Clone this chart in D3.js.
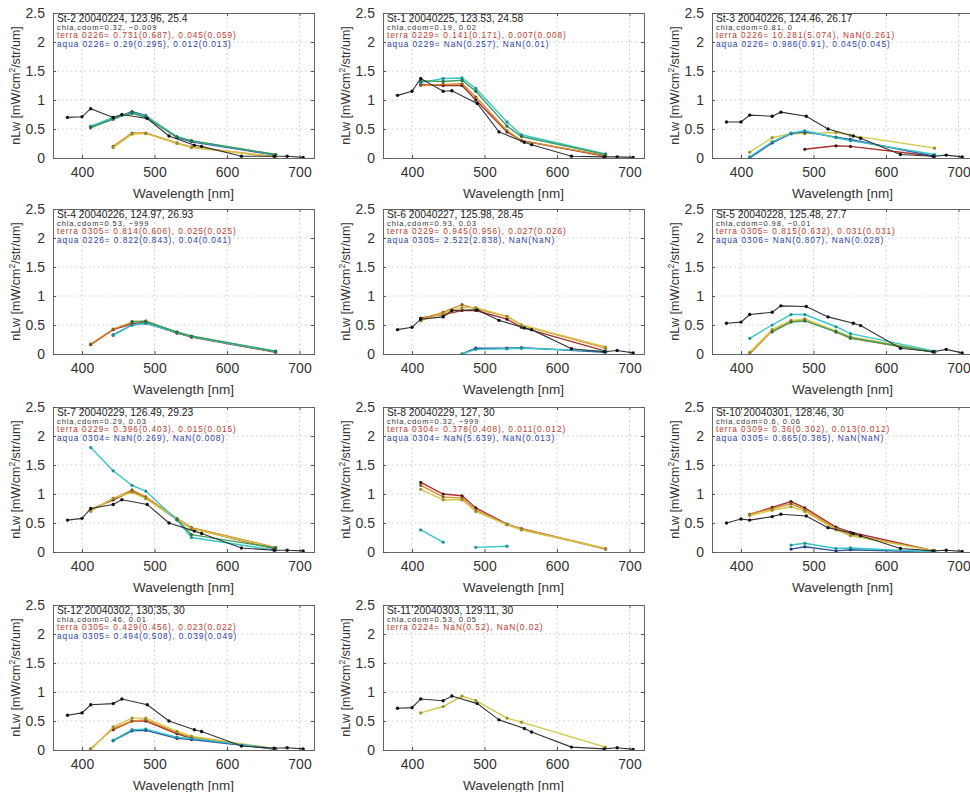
<!DOCTYPE html>
<html>
<head>
<meta charset="utf-8">
<script src="https://cdn.jsdelivr.net/npm/d3@7"></script>
<style>
  html, body { margin: 0; padding: 0; background: #fff; }
  svg { display: block; font-family: "Liberation Sans", Arial, Helvetica, sans-serif; }
</style>
</head>
<body>
<svg id="chart" width="970" height="792"></svg>
<script>
// ── Data ──────────────────────────────────────────────────────────────────────
const wlInsitu = [380, 400, 412, 443, 455, 490, 520, 555, 565, 620, 665, 683, 705]
const wlModis  = [412, 443, 469, 488, 531, 551, 667]

const titles = [
  'St-2 20040224, 123.96, 25.4', 'St-1 20040225, 123.53, 24.58', 'St-3 20040226, 124.46, 26.17',
  'St-4 20040226, 124.97, 26.93', 'St-6 20040227, 125.98, 28.45', 'St-5 20040228, 125.48, 27.7',
  'St-7 20040229, 126.49, 29.23', 'St-8 20040229, 127, 30', 'St-10 20040301, 128.46, 30',
  'St-12 20040302, 130.35, 30', 'St-11 20040303, 129.11, 30'
]
const chlaText = [
  'chla,cdom=0.32, \u22120.009', 'chla,cdom=0.19, 0.02', 'chla,cdom=0.81, 0',
  'chla,cdom=0.53, \u2212999', 'chla,cdom=0.93, 0.03', 'chla,cdom=0.98, \u22120.01',
  'chla,cdom=0.29, 0.03', 'chla,cdom=0.32, \u2212999', 'chla,cdom=0.6, 0.06',
  'chla,cdom=0.46, 0.01', 'chla,cdom=0.53, 0.05'
]
const terraText = [
  'terra 0226= 0.731(0.687), 0.045(0.059)', 'terra 0229= 0.141(0.171), 0.007(0.008)',
  'terra 0226= 10.281(5.074), NaN(0.261)', 'terra 0305= 0.814(0.606), 0.025(0.025)',
  'terra 0229= 0.945(0.956), 0.027(0.026)', 'terra 0305= 0.815(0.632), 0.031(0.031)',
  'terra 0229= 0.396(0.403), 0.015(0.015)', 'terra 0304= 0.378(0.408), 0.011(0.012)',
  'terra 0309= 0.36(0.302), 0.013(0.012)', 'terra 0305= 0.429(0.456), 0.023(0.022)',
  'terra 0224= NaN(0.52), NaN(0.02)'
]
const aquaText = [
  'aqua 0226= 0.29(0.295), 0.012(0.013)', 'aqua 0229= NaN(0.257), NaN(0.01)',
  'aqua 0226= 0.986(0.91), 0.045(0.045)', 'aqua 0226= 0.822(0.843), 0.04(0.041)',
  'aqua 0305= 2.522(2.838), NaN(NaN)', 'aqua 0306= NaN(0.807), NaN(0.028)',
  'aqua 0304= NaN(0.269), NaN(0.008)', 'aqua 0304= NaN(5.639), NaN(0.013)',
  'aqua 0305= 0.665(0.385), NaN(NaN)', 'aqua 0305= 0.494(0.508), 0.039(0.049)',
  null
]

// in-situ nLw at wlInsitu (null = station without in-situ spectrum)
const insitu = [
  [0.70, 0.71, 0.85, 0.70, 0.75, 0.68, 0.38, 0.22, 0.20, 0.03, 0.03, 0.03, 0.01],
  [1.08, 1.15, 1.37, 1.15, 1.16, 0.94, 0.45, 0.27, 0.23, 0.03, 0.02, 0.02, 0.01],
  [0.62, 0.62, 0.74, 0.72, 0.79, 0.72, 0.50, 0.38, 0.34, 0.06, 0.03, 0.05, 0.02],
  null,
  [0.42, 0.46, 0.60, 0.64, 0.75, 0.76, 0.58, 0.45, 0.42, 0.09, 0.04, 0.06, 0.02],
  [0.53, 0.55, 0.68, 0.72, 0.83, 0.82, 0.64, 0.53, 0.49, 0.10, 0.04, 0.08, 0.02],
  [0.55, 0.58, 0.75, 0.82, 0.90, 0.82, 0.50, 0.36, 0.32, 0.07, 0.03, 0.03, 0.02],
  null,
  [0.50, 0.57, 0.55, 0.61, 0.65, 0.62, 0.42, 0.32, 0.28, 0.06, 0.02, 0.03, 0.01],
  [0.60, 0.64, 0.78, 0.80, 0.88, 0.78, 0.50, 0.35, 0.32, 0.07, 0.03, 0.04, 0.02],
  [0.72, 0.73, 0.88, 0.85, 0.93, 0.80, 0.52, 0.37, 0.31, 0.05, 0.02, 0.04, 0.01]
]

// satellite nLw at wlModis, one array per plotted series
const satRed = [
  null,
  [1.27, 1.25, 1.25, 1.00, 0.45, 0.30, 0.03],
  [null, null, null, 0.15, 0.21, 0.20, 0.03],
  [0.16, 0.42, 0.52, 0.55, 0.36, 0.29, 0.03],
  [0.62, 0.68, 0.75, 0.75, 0.60, 0.46, 0.05],
  null,
  [0.73, 0.90, 1.05, 0.93, 0.56, 0.41, 0.05],
  [1.20, 1.00, 0.97, 0.76, 0.48, 0.40, 0.05],
  [0.65, 0.77, 0.87, 0.76, 0.43, 0.34, 0.02],
  [null, 0.35, 0.50, 0.50, 0.28, 0.20, 0.01],
  null
]
const satOrange = [
  [null, 0.20, 0.43, 0.43, 0.26, 0.19, 0.02],
  [1.25, 1.27, 1.28, 1.05, 0.47, 0.30, 0.04],
  null,
  [0.17, 0.43, 0.55, 0.57, 0.37, 0.30, 0.04],
  [0.60, 0.72, 0.85, 0.78, 0.65, 0.50, 0.10],
  [0.00, 0.40, 0.56, 0.60, 0.38, 0.27, 0.03],
  [0.72, 0.92, 1.07, 0.95, 0.58, 0.42, 0.08],
  [1.15, 0.95, 0.93, 0.72, 0.47, 0.40, 0.06],
  [0.65, 0.75, 0.83, 0.73, 0.40, 0.30, 0.02],
  [0.02, 0.37, 0.50, 0.52, 0.30, 0.22, 0.02],
  null
]
const satYellow = [
  [null, 0.18, 0.41, 0.42, 0.25, 0.18, 0.02],
  null,
  [0.10, 0.35, 0.42, 0.42, 0.44, 0.39, 0.17],
  null,
  [0.57, 0.70, 0.80, 0.80, 0.65, 0.50, 0.12],
  [0.03, 0.42, 0.58, 0.60, 0.40, 0.30, 0.04],
  [0.70, 0.93, 1.03, 0.92, 0.57, 0.40, 0.07],
  [1.08, 0.90, 0.90, 0.70, 0.47, 0.38, 0.06],
  [0.63, 0.72, 0.78, 0.70, 0.38, 0.28, 0.02],
  [0.00, 0.40, 0.55, 0.55, 0.32, 0.24, 0.02],
  [0.64, 0.75, 0.93, 0.85, 0.55, 0.48, 0.05]
]
const satBlue = [
  [0.53, 0.67, 0.80, 0.73, 0.35, 0.28, 0.05],
  null,
  [0.00, 0.26, 0.42, 0.45, 0.36, 0.32, 0.03],
  [null, 0.33, 0.50, 0.53, 0.37, 0.30, 0.04],
  [null, null, 0.00, 0.10, 0.10, 0.11, 0.03],
  null, null, null,
  [null, null, 0.05, 0.09, 0.02, 0.04, 0.00],
  [null, 0.16, 0.33, 0.34, 0.20, 0.18, 0.02],
  null
]
const satCyan = [
  [0.55, 0.70, 0.78, 0.72, 0.37, 0.29, 0.06],
  [1.30, 1.37, 1.38, 1.20, 0.62, 0.40, 0.07],
  [0.02, 0.28, 0.43, 0.47, 0.35, 0.30, 0.06],
  [null, 0.32, 0.50, 0.53, 0.37, 0.30, 0.04],
  [null, null, 0.00, 0.08, 0.09, 0.10, 0.05],
  [0.27, 0.50, 0.68, 0.68, 0.47, 0.35, 0.05],
  [1.80, 1.40, 1.15, 1.05, 0.55, 0.25, 0.03],
  [0.38, 0.17, null, 0.08, 0.10, null, null],
  [null, null, 0.12, 0.15, 0.06, 0.07, 0.00],
  [null, 0.17, 0.35, 0.36, 0.22, 0.20, 0.02],
  null
]
const satGreen = [
  [0.52, 0.68, 0.77, 0.70, 0.36, 0.30, 0.06],
  [1.33, 1.32, 1.34, 1.15, 0.55, 0.37, 0.06],
  null,
  [null, null, 0.56, 0.56, 0.38, 0.31, 0.05],
  null,
  [null, 0.38, 0.55, 0.57, 0.38, 0.28, 0.03],
  [null, null, null, null, 0.56, 0.30, 0.07],
  null, null, null, null
]

const xTicks = [400, 500, 600, 700]
const yTicks = [0, 0.5, 1, 1.5, 2, 2.5]

// ── Layout ────────────────────────────────────────────────────────────────────
const colLeft = [53, 383, 712]
const rowTop  = [13, 209, 407, 605]
const W = 261, H = 145

const series = [
  { data: satRed,    color: '#a8322e', dot: '#3a1a1a' },
  { data: satOrange, color: '#d68a2c', dot: '#8e5a1a' },
  { data: satYellow, color: '#d5c64a', dot: '#9c8f2a' },
  { data: satBlue,   color: '#2f55a4', dot: '#1d3670' },
  { data: satCyan,   color: '#38c6c8', dot: '#1f8e90' },
  { data: satGreen,  color: '#3f9d5c', dot: '#2a6e40' }
]

const svg = d3.select('#chart')
const x = d3.scaleLinear().domain([360, 720]).range([0, W])
const y = d3.scaleLinear().domain([0, 2.5]).range([H, 0])

function drawPanel(i) {
  const g = svg.append('g')
    .attr('transform', `translate(${colLeft[i % 3]},${rowTop[Math.floor(i / 3)]})`)

  g.append('defs').append('clipPath').attr('id', 'clip' + i)
    .append('rect').attr('width', W).attr('height', H)

  // grid
  g.append('g').selectAll('line').data(xTicks).join('line')
    .attr('x1', d => x(d)).attr('x2', d => x(d)).attr('y1', 0).attr('y2', H)
    .attr('stroke', '#bbb').attr('stroke-width', 0.8).attr('stroke-dasharray', '1.5,3')
  g.append('g').selectAll('line').data(yTicks.slice(1, -1)).join('line')
    .attr('x1', 0).attr('x2', W).attr('y1', d => y(d)).attr('y2', d => y(d))
    .attr('stroke', '#bbb').attr('stroke-width', 0.8).attr('stroke-dasharray', '1.5,3')

  // axes (MATLAB box: ticks inside on all four sides)
  const ax = g.append('g').attr('class', 'axes').attr('color', '#555')
  ax.append('g').attr('transform', `translate(0,${H})`)
    .call(d3.axisBottom(x).tickValues(xTicks).tickSize(-3).tickPadding(9))
  ax.append('g')
    .call(d3.axisTop(x).tickValues(xTicks).tickSize(-3).tickFormat(''))
  ax.append('g')
    .call(d3.axisLeft(y).tickValues(yTicks).tickSize(-3).tickPadding(8).tickFormat(d3.format('')))
  ax.append('g').attr('transform', `translate(${W},0)`)
    .call(d3.axisRight(y).tickValues(yTicks).tickSize(-3).tickFormat(''))
  ax.selectAll('.domain').attr('stroke', '#666')
  ax.selectAll('text').attr('fill', '#333').attr('font-size', 14)
    .attr('font-family', '"Liberation Sans", Arial, sans-serif')

  // axis titles
  g.append('text')
    .attr('x', W / 2).attr('y', H + 40)
    .attr('text-anchor', 'middle').attr('font-size', 13.5).attr('fill', '#333')
    .text('Wavelength [nm]')
  const yl = g.append('text')
    .attr('transform', `translate(-33,${H / 2}) rotate(-90)`)
    .attr('text-anchor', 'middle').attr('font-size', 12.5).attr('fill', '#333')
  yl.append('tspan').text('nLw [mW/cm')
  yl.append('tspan').attr('font-size', 8.5).attr('dy', -5).text('2')
  yl.append('tspan').attr('dy', 5).text('/str/um]')

  // series
  const plot = g.append('g').attr('clip-path', `url(#clip${i})`)
  const line = d3.line().defined(d => d[1] != null).x(d => x(d[0])).y(d => y(d[1]))

  series.forEach(s => {
    const vals = s.data[i]
    if (!vals) return
    const pts = wlModis.map((w, k) => [w, vals[k]])
    plot.append('path').datum(pts).attr('d', line)
      .attr('fill', 'none').attr('stroke', s.color).attr('stroke-width', 1.4)
    plot.append('g').selectAll('circle').data(pts.filter(d => d[1] != null)).join('circle')
      .attr('cx', d => x(d[0])).attr('cy', d => y(d[1])).attr('r', 1.6).attr('fill', s.dot)
  })

  if (insitu[i]) {
    const pts = wlInsitu.map((w, k) => [w, insitu[i][k]])
    plot.append('path').datum(pts).attr('d', line)
      .attr('fill', 'none').attr('stroke', '#333').attr('stroke-width', 1.1)
    plot.append('g').selectAll('circle').data(pts).join('circle')
      .attr('cx', d => x(d[0])).attr('cy', d => y(d[1])).attr('r', 1.7).attr('fill', '#111')
  }

  // annotation text
  g.append('text').attr('x', 4).attr('y', 8.5).attr('font-size', 10.3).attr('fill', '#222').text(titles[i])
  g.append('text').attr('x', 4).attr('y', 16.5).attr('font-size', 7.5).attr('letter-spacing', 0.9)
    .attr('fill', '#333').text(chlaText[i])
  g.append('text').attr('x', 4).attr('y', 25).attr('font-size', 8.3).attr('letter-spacing', 0.95)
    .attr('fill', '#c0392b').text(terraText[i])
  if (aquaText[i]) {
    g.append('text').attr('x', 4).attr('y', 33.5).attr('font-size', 8.3).attr('letter-spacing', 0.95)
      .attr('fill', '#2b3fa8').text(aquaText[i])
  }
}

titles.forEach((t, i) => drawPanel(i))
</script>
</body>
</html>
